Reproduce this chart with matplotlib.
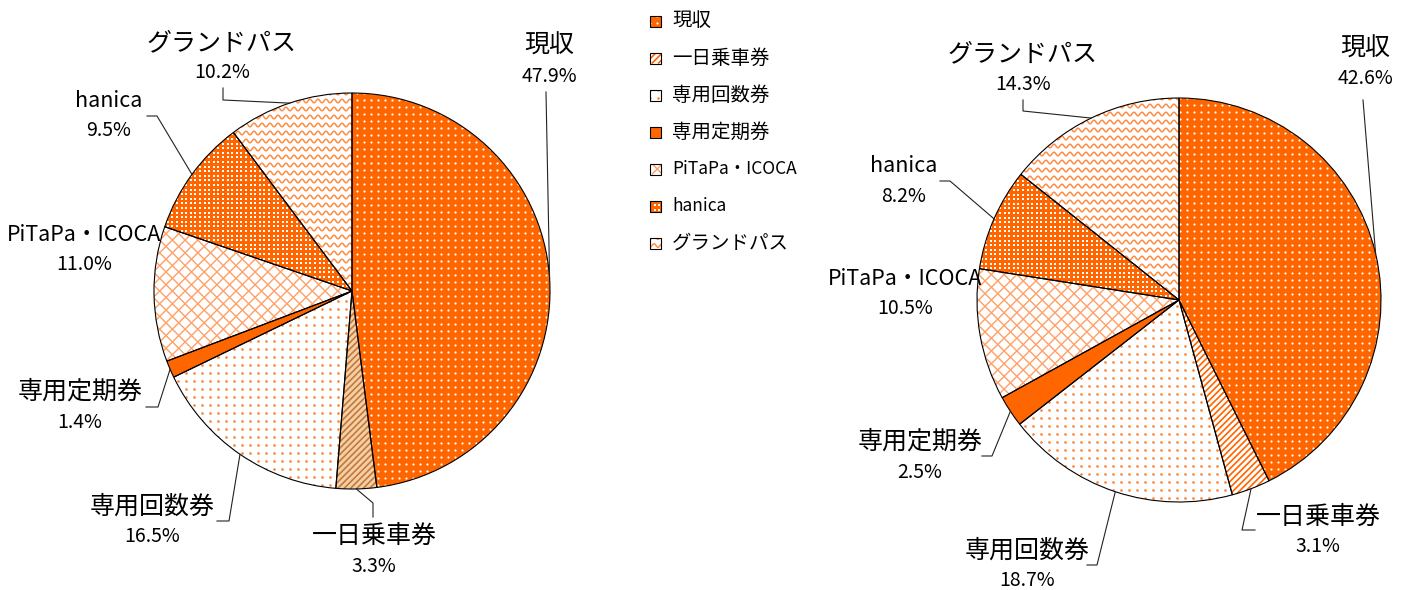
import numpy as np
import matplotlib
matplotlib.use('Agg')
import matplotlib.pyplot as plt
from matplotlib import font_manager
from matplotlib.patches import Wedge, Rectangle
from matplotlib.collections import LineCollection

plt.rcParams['font.family'] = ['Noto Sans CJK JP', 'DejaVu Sans']

# 券種別の利用割合 (%)
labels = ['現収', '一日乗車券', '専用回数券', '専用定期券', 'PiTaPa・ICOCA', 'hanica', 'グランドパス']
share_left = [47.9, 3.3, 16.5, 1.4, 11.0, 9.5, 10.2]
share_right = [42.6, 3.1, 18.7, 2.5, 10.5, 8.2, 14.3]

ORANGE = '#FF6600'
PX = 0.72  # 1px in points at dpi 100

# パーセント表記は細めのフォントがあればそれを使う
installed = {f.name for f in font_manager.fontManager.ttflist}
if 'Liberation Sans Narrow' in installed:
    PCT_FONT = dict(family=['Liberation Sans Narrow', 'Noto Sans CJK JP'], fontsize=17)
else:
    PCT_FONT = dict(fontsize=14)


def dots(ax, box, step, color, size, marker='o'):
    x0, y0, x1, y1 = box
    gx, gy = np.meshgrid(np.arange(x0, x1 + step, step), np.arange(y0, y1 + step, step))
    s = (size * PX) ** 2
    return ax.scatter(gx.ravel(), gy.ravel(), s=s, c=color, marker=marker, linewidths=0, zorder=2)


def diag(ax, box, step, color, lw, rising=True):
    x0, y0, x1, y1 = box
    h = y1 - y0
    segs = []
    for c in np.arange(x0 - h, x1 + step, step * np.sqrt(2)):
        if rising:
            segs.append([(c, y1), (c + h, y0)])
        else:
            segs.append([(c, y0), (c + h, y1)])
    lc = LineCollection(segs, colors=color, linewidths=lw * PX, zorder=2)
    ax.add_collection(lc)
    return lc


def waves(ax, box, step, period, amp, color, lw):
    x0, y0, x1, y1 = box
    xs = np.linspace(x0, x1, int((x1 - x0) * 2) + 2)
    segs = [np.column_stack([xs, y + amp * np.sin(2 * np.pi * xs / period)])
            for y in np.arange(y0, y1 + step, step)]
    lc = LineCollection(segs, colors=color, linewidths=lw * PX, zorder=2)
    ax.add_collection(lc)
    return lc


def fill(ax, patch, box, kind):
    arts = []
    if kind == 'genshu':
        arts.append(dots(ax, box, 7, 'white', 2.2))
    elif kind == 'ichinichi':
        arts.append(diag(ax, box, 4.5, ORANGE, 1.7))
    elif kind == 'ichinichi_tan':
        arts.append(diag(ax, box, 4.5, '#C07A45', 1.7))
    elif kind == 'kaisu':
        arts.append(dots(ax, box, 8, '#FF7F2A', 2.6))
    elif kind == 'pitapa':
        arts.append(diag(ax, box, 9, '#FFA066', 1.4, True))
        arts.append(diag(ax, box, 9, '#FFA066', 1.4, False))
    elif kind == 'hanica':
        arts.append(dots(ax, box, 4.6, 'white', 2.5, marker='s'))
    elif kind == 'grand':
        arts.append(waves(ax, box, 8, 8, 1.8, '#FF8C40', 1.5))
    for a in arts:
        a.set_clip_path(patch)


faces = [ORANGE, 'white', 'white', ORANGE, 'white', ORANGE, 'white']
kinds = ['genshu', 'ichinichi', 'kaisu', None, 'pitapa', 'hanica', 'grand']
kinds_left = ['genshu', 'ichinichi_tan', 'kaisu', None, 'pitapa', 'hanica', 'grand']
faces_left = [ORANGE, '#F7CFA0', 'white', ORANGE, 'white', ORANGE, 'white']

# ラベル位置 (名前の中心) と引き出し線の折れ点
left_pie = dict(center=(352, 291), r=198)
left_text = [(549, 46), (374, 536), (152, 507), (80, 392), (84, 235), (109, 101), (222, 43)]
left_lead = [[(546, 92)], [(373, 517), (373, 503)], [(217, 521), (229, 521)],
             [(146, 407), (158, 407)], None, [(147, 116), (157, 116)], [(223, 88), (223, 100)]]

right_pie = dict(center=(1179, 300), r=202)
right_text = [(1365, 49), (1318, 517), (1027, 551), (920, 442), (905, 279), (904, 166), (1023, 54)]
right_lead = [[(1363, 100)], [(1255, 530), (1242, 530)], [(1087, 565), (1097, 565)],
              [(982, 456), (992, 456)], None, [(940, 181), (950, 181)], [(1023, 100), (1023, 111)]]


def name_size(name):
    # 英字を含むラベルは少し小さめ
    return 15.5 if any(ord(c) < 128 for c in name) else 18


def draw_pie(ax, values, pie, face, kind, text_pos, lead):
    cx, cy = pie['center']
    r = pie['r']
    # y軸を反転しているので startangle=-90 で上から時計回り
    wedges, _ = ax.pie(values, center=(cx, cy), radius=r, startangle=-90, counterclock=True,
                       colors=face, wedgeprops=dict(linewidth=0))
    box = (cx - r, cy - r, cx + r, cy + r)
    for w, k in zip(wedges, kind):
        w.set_zorder(1)
        if k:
            fill(ax, w, box, k)
        ax.add_patch(Wedge((cx, cy), r, w.theta1, w.theta2, fill=False, ec='black', lw=0.8, zorder=3))
    for w, name, v, (tx, ty), pts in zip(wedges, labels, values, text_pos, lead):
        ax.text(tx, ty, name, ha='center', va='center', fontsize=name_size(name), zorder=4)
        ax.text(tx, ty + 30, '%.1f%%' % v, ha='center', va='center', zorder=4, **PCT_FONT)
        if pts:
            a = np.deg2rad((w.theta1 + w.theta2) / 2)
            ex, ey = cx + r * np.cos(a), cy + r * np.sin(a)
            xs = [p[0] for p in pts] + [ex]
            ys = [p[1] for p in pts] + [ey]
            ax.plot(xs, ys, color='#222222', lw=0.8, zorder=4)


fig = plt.figure(figsize=(14.05, 5.9), dpi=100)
ax = fig.add_axes([0, 0, 1, 1])

draw_pie(ax, share_left, left_pie, faces_left, kinds_left, left_text, left_lead)
draw_pie(ax, share_right, right_pie, faces, kinds, right_text, right_lead)

# 凡例
for i, name in enumerate(labels):
    y = 21 + 37 * i
    rect = Rectangle((650, y - 5.5), 11, 11, facecolor=faces[i], edgecolor='none', zorder=1)
    ax.add_patch(rect)
    if kinds[i]:
        fill(ax, rect, (650, y - 5.5, 661, y + 5.5), kinds[i])
    ax.add_patch(Rectangle((650, y - 5.5), 11, 11, fill=False, edgecolor='black', lw=0.8, zorder=3))
    fs = 12.5 if any(ord(c) < 128 for c in name) else 14
    ax.text(672, y, name, ha='left', va='center', fontsize=fs, zorder=4)

ax.set_xlim(0, 1405)
ax.set_ylim(590, 0)
ax.set_aspect('equal')
ax.axis('off')

fig.savefig('out.png', dpi=100)
